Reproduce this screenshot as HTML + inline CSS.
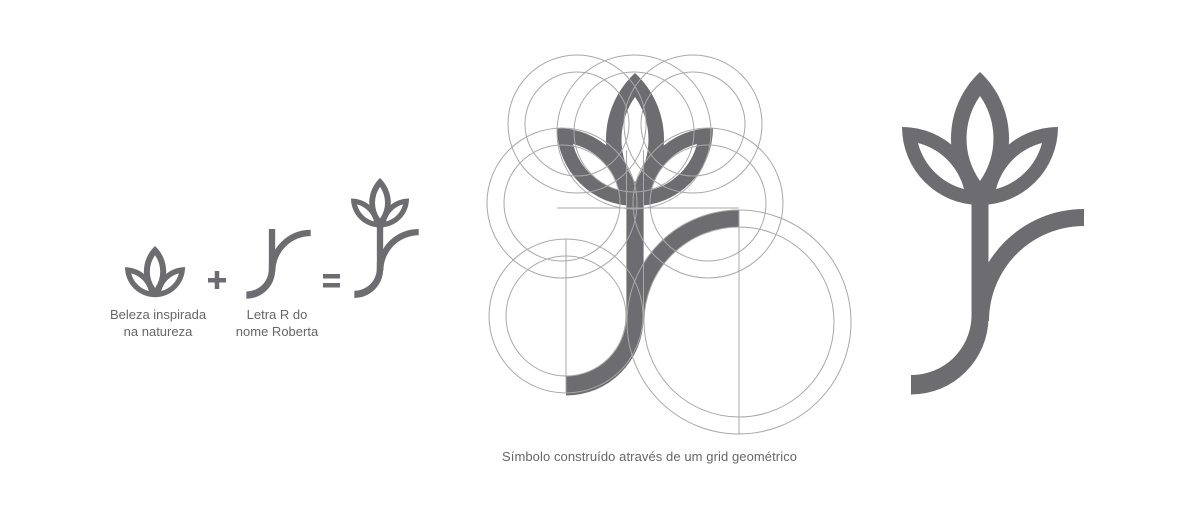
<!DOCTYPE html>
<html><head><meta charset="utf-8"><style>
html,body{margin:0;padding:0;background:#fff;width:1200px;height:511px;overflow:hidden}
svg{display:block}
text{font-family:"Liberation Sans",sans-serif;fill:#666;font-size:13px}
</style></head><body>
<svg width="1200" height="511" viewBox="0 0 1200 511">
<defs>
<g id="leaves" fill="#6d6c71" fill-rule="evenodd">
  <path d="M635,73 A90.7,90.7 0 0 0 635,206 A90.7,90.7 0 0 0 635,73 Z M635,97 A73.7,73.7 0 0 0 635,182 A73.7,73.7 0 0 0 635,97 Z"/>
  <path d="M557,128 A78,78 0 0 0 635,206 A78,78 0 0 0 557,128 Z M573,144 A64,64 0 0 0 619,190 A64,64 0 0 0 573,144 Z"/>
  <path d="M713,128 A78,78 0 0 1 635,206 A78,78 0 0 1 713,128 Z M697,144 A64,64 0 0 1 651,190 A64,64 0 0 1 697,144 Z"/>
</g>
<g id="rletter" fill="#6d6c71">
  <path d="M739,210 L739,227 A95,95 0 0 0 644,322 L627,322 A112,112 0 0 1 739,210 Z"/>
  <path d="M643.5,318 A77.5,77.5 0 0 1 566,395.5 L566,376 A60,60 0 0 0 626.5,318 Z"/>
  <rect x="626.5" y="300" width="17" height="20"/>
</g>
</defs>

<!-- left equation -->
<g transform="translate(125,246) scale(0.385) translate(-557,-73)"><use href="#leaves"/></g>
<text x="158" y="319" text-anchor="middle">Beleza inspirada</text>
<text x="158" y="336" text-anchor="middle">na natureza</text>
<g fill="#6d6c71"><rect x="208" y="278" width="18" height="4.5"/><rect x="214.75" y="271" width="4.5" height="18"/></g>
<g transform="translate(243,229) scale(0.372) translate(-557,-208)">
  <use href="#rletter"/><rect x="626.5" y="208" width="17" height="114" fill="#6d6c71"/>
</g>
<text x="277" y="319" text-anchor="middle">Letra R do</text>
<text x="277" y="336" text-anchor="middle">nome Roberta</text>
<g fill="#6d6c71"><rect x="323" y="274" width="17" height="4.5"/><rect x="323" y="283" width="17" height="4.5"/></g>
<g transform="translate(351,178) scale(0.372) translate(-557,-73)">
  <use href="#leaves"/><use href="#rletter"/><rect x="626.5" y="200" width="17" height="122" fill="#6d6c71"/>
</g>

<!-- construction -->
<g>
  <use href="#leaves"/><use href="#rletter"/><rect x="626.5" y="200" width="17" height="122" fill="#6d6c71"/>
</g>
<g fill="none" stroke="#a8a8a8" stroke-width="1">
  <circle cx="577" cy="124" r="69"/><circle cx="577" cy="124" r="52"/>
  <circle cx="634" cy="132" r="77"/><circle cx="634" cy="132" r="60"/>
  <circle cx="693" cy="124" r="69"/><circle cx="693" cy="124" r="52"/>
  <circle cx="562" cy="203" r="75"/><circle cx="562" cy="203" r="58"/>
  <circle cx="708" cy="203" r="75"/><circle cx="708" cy="203" r="58"/>
  <circle cx="566" cy="316" r="77"/><circle cx="566" cy="316" r="60"/>
  <circle cx="739" cy="322" r="112"/><circle cx="739" cy="322" r="95"/>
  <line x1="566" y1="239" x2="566" y2="393"/>
  <line x1="739" y1="210" x2="739" y2="434"/>
  <line x1="557" y1="208" x2="739" y2="208"/>
  <line x1="626.5" y1="150" x2="626.5" y2="322"/>
  <line x1="643.5" y1="150" x2="643.5" y2="322"/>
</g>
<text x="502" y="461" textLength="295">Símbolo construído através de um grid geométrico</text>

<!-- final logo -->
<g transform="translate(345,-1)">
  <use href="#leaves"/><use href="#rletter"/><rect x="626.5" y="200" width="17" height="122" fill="#6d6c71"/>
</g>
</svg>
</body></html>
